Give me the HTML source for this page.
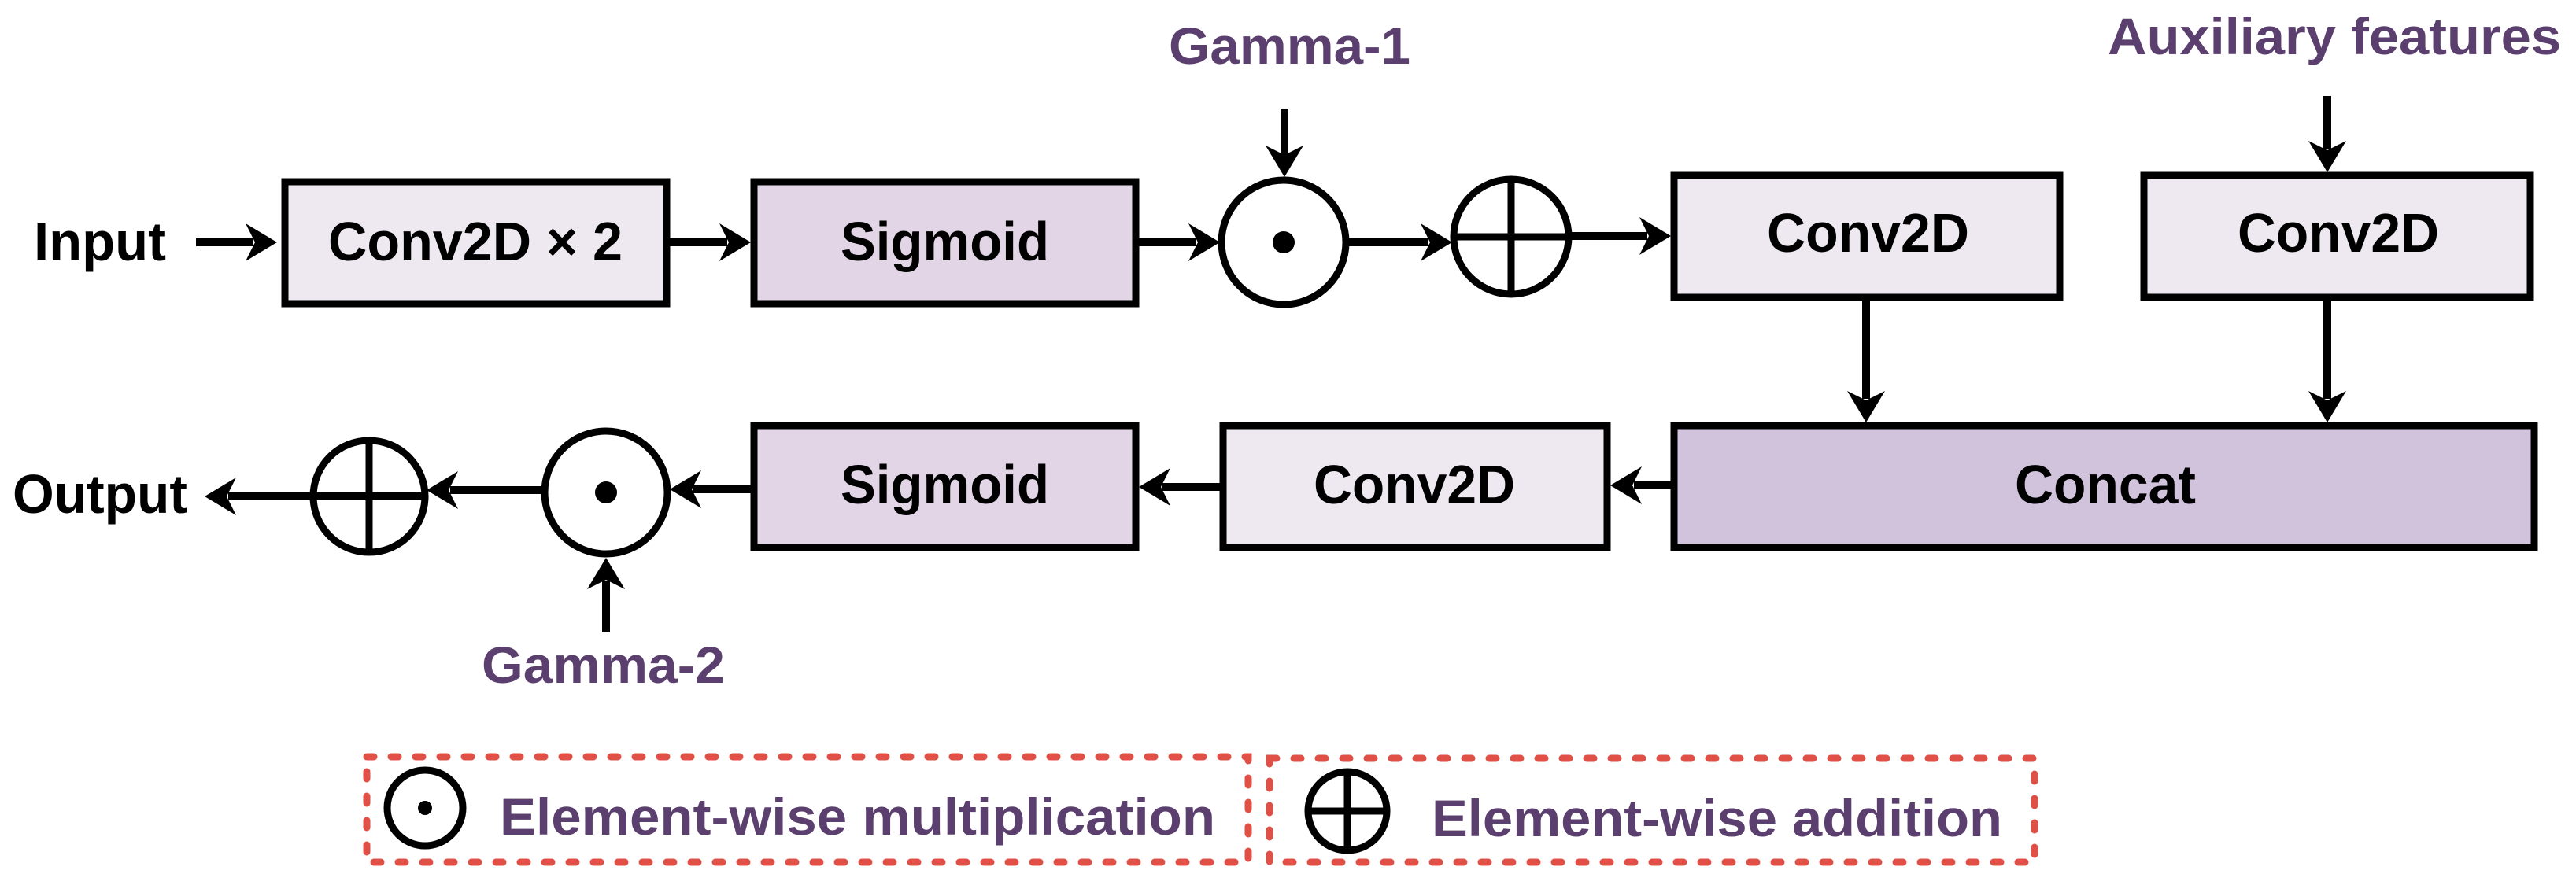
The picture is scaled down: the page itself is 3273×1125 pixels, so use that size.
<!DOCTYPE html>
<html><head><meta charset="utf-8"><style>
html,body{margin:0;padding:0;background:#fff;}
svg{display:block;}
text{font-family:"Liberation Sans",sans-serif;font-weight:bold;}
</style></head><body>
<svg width="3273" height="1125" viewBox="0 0 3273 1125" xmlns="http://www.w3.org/2000/svg">
<rect width="3273" height="1125" fill="#fff"/>
<g stroke="#000" stroke-width="9">
<rect x="362" y="231" width="485" height="155" fill="#eee9f1"/>
<rect x="958" y="231" width="485" height="155" fill="#e2d6e6"/>
<rect x="2127" y="223" width="490" height="155" fill="#eee9f1"/>
<rect x="2724" y="223" width="491" height="155" fill="#eee9f1"/>
<rect x="2127" y="541" width="1093" height="155" fill="#d1c3dc"/>
<rect x="1554" y="541" width="488" height="155" fill="#eee9f1"/>
<rect x="958" y="541" width="485" height="155" fill="#e2d6e6"/>
<circle cx="1631" cy="308" r="79" fill="#fff"/>
<circle cx="1920" cy="301" r="73" fill="#fff"/>
<line x1="1847" y1="301" x2="1993" y2="301"/><line x1="1920" y1="228" x2="1920" y2="374"/>
<circle cx="770" cy="626" r="78" fill="#fff"/>
<circle cx="469" cy="631" r="71" fill="#fff"/>
<line x1="469" y1="560" x2="469" y2="702"/>
</g>
<circle cx="1631" cy="308" r="14"/>
<circle cx="770" cy="626" r="14"/>
<g stroke="#000" stroke-width="10">
<line x1="249" y1="308" x2="322" y2="308"/>
<line x1="851" y1="308" x2="924" y2="308"/>
<line x1="1447" y1="308" x2="1520" y2="308"/>
<line x1="1712" y1="308" x2="1815" y2="308"/>
<line x1="1995" y1="300" x2="2093" y2="300"/>
<line x1="1632" y1="138" x2="1632" y2="197"/>
<line x1="2957" y1="122" x2="2957" y2="190"/>
<line x1="2371" y1="382" x2="2371" y2="507"/>
<line x1="2957" y1="382" x2="2957" y2="507"/>
<line x1="2123" y1="617" x2="2076" y2="617"/>
<line x1="1550" y1="619" x2="1477" y2="619"/>
<line x1="954" y1="622" x2="881" y2="622"/>
<line x1="688" y1="623" x2="572" y2="623"/>
<line x1="540" y1="631" x2="290" y2="631"/>
<line x1="770" y1="804" x2="770" y2="739"/>
</g>
<g fill="#000">
<polygon points="352,308 312,284 324,308 312,332"/>
<polygon points="954,308 914,284 926,308 914,332"/>
<polygon points="1550,308 1510,284 1522,308 1510,332"/>
<polygon points="1845,308 1805,284 1817,308 1805,332"/>
<polygon points="2123,300 2083,276 2095,300 2083,324"/>
<polygon points="1632,225 1608,185 1632,197 1656,185"/>
<polygon points="2957,219 2933,179 2957,191 2981,179"/>
<polygon points="2371,537 2347,497 2371,509 2395,497"/>
<polygon points="2957,537 2933,497 2957,509 2981,497"/>
<polygon points="2046,617 2086,593 2074,617 2086,641"/>
<polygon points="1447,619 1487,595 1475,619 1487,643"/>
<polygon points="851,622 891,598 879,622 891,646"/>
<polygon points="542,623 582,599 570,623 582,647"/>
<polygon points="260,631 300,607 288,631 300,655"/>
<polygon points="770,709 746,749 770,737 794,749"/>
</g>
<g font-size="70" fill="#000">
<text x="43" y="331" textLength="168" lengthAdjust="spacingAndGlyphs">Input</text>
<text x="417" y="331" textLength="374" lengthAdjust="spacingAndGlyphs">Conv2D × 2</text>
<text x="1068" y="331" textLength="265" lengthAdjust="spacingAndGlyphs">Sigmoid</text>
<text x="2245" y="320" textLength="257" lengthAdjust="spacingAndGlyphs">Conv2D</text>
<text x="2843" y="320" textLength="256" lengthAdjust="spacingAndGlyphs">Conv2D</text>
<text x="2560" y="640" textLength="230" lengthAdjust="spacingAndGlyphs">Concat</text>
<text x="1669" y="640" textLength="256" lengthAdjust="spacingAndGlyphs">Conv2D</text>
<text x="1068" y="640" textLength="265" lengthAdjust="spacingAndGlyphs">Sigmoid</text>
<text x="16" y="652" textLength="222" lengthAdjust="spacingAndGlyphs">Output</text>
</g>
<g font-size="66" fill="#5b3f6e">
<text x="1485" y="81" textLength="307" lengthAdjust="spacingAndGlyphs">Gamma-1</text>
<text x="2678" y="69" textLength="576" lengthAdjust="spacingAndGlyphs">Auxiliary features</text>
<text x="612" y="868" textLength="309" lengthAdjust="spacingAndGlyphs">Gamma-2</text>
<text x="635" y="1061" textLength="909" lengthAdjust="spacingAndGlyphs">Element-wise multiplication</text>
<text x="1819" y="1063" textLength="725" lengthAdjust="spacingAndGlyphs">Element-wise addition</text>
</g>
<g fill="none" stroke="#e05046" stroke-width="9" stroke-linecap="round" stroke-dasharray="9 22">
<rect x="466" y="962" width="1120" height="134"/>
<rect x="1613" y="964" width="972" height="132"/>
</g>
<g stroke="#000" stroke-width="9" fill="none">
<circle cx="540" cy="1027" r="48"/>
<circle cx="1712" cy="1031" r="50"/>
<line x1="1662" y1="1031" x2="1762" y2="1031"/><line x1="1712" y1="981" x2="1712" y2="1081"/>
</g>
<circle cx="540" cy="1027" r="9"/>
</svg>
</body></html>
